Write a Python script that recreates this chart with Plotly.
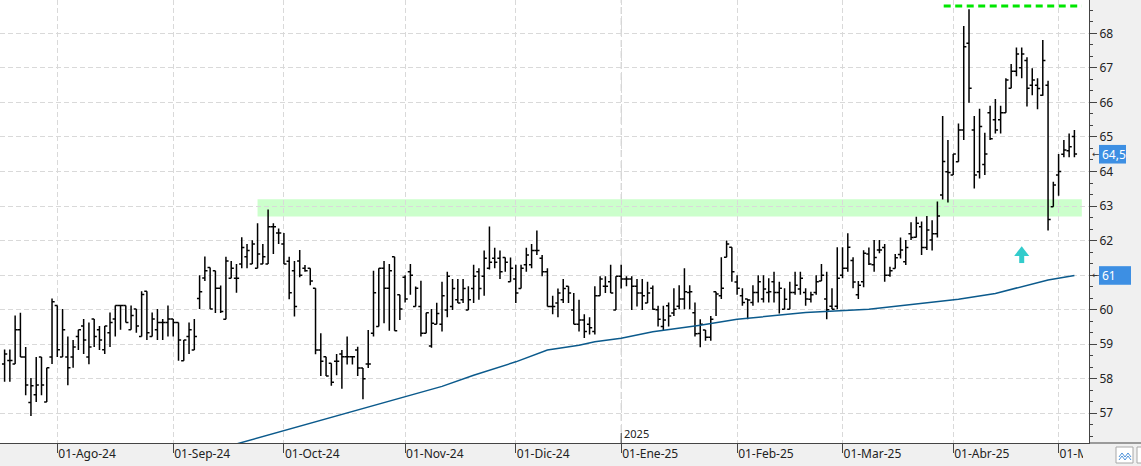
import plotly.graph_objects as go

# ---------------- data ----------------
MONTH_DAYS = {
    "2024-07": [18, 19, 22, 23, 24, 25, 26, 29, 30, 31],
    "2024-08": [1, 2, 5, 6, 7, 8, 9, 12, 13, 14, 15, 16, 19, 20, 21, 22, 23, 26, 27, 28, 29, 30],
    "2024-09": [2, 3, 4, 5, 6, 9, 10, 11, 12, 13, 16, 17, 18, 19, 20, 23, 24, 25, 26, 27, 30],
    "2024-10": [1, 2, 3, 4, 7, 8, 9, 10, 11, 14, 15, 16, 17, 18, 21, 22, 23, 24, 25, 28, 29, 30, 31],
    "2024-11": [1, 4, 5, 6, 7, 8, 11, 12, 13, 14, 15, 18, 19, 20, 21, 22, 25, 26, 27, 28, 29],
    "2024-12": [2, 3, 4, 5, 6, 9, 10, 11, 12, 13, 16, 17, 18, 19, 20, 23, 24, 27, 30, 31],
    "2025-01": [2, 3, 6, 7, 8, 9, 10, 13, 14, 15, 16, 17, 20, 21, 22, 23, 24, 27, 28, 29, 30, 31],
    "2025-02": [3, 4, 5, 6, 7, 10, 11, 12, 13, 14, 17, 18, 19, 20, 21, 24, 25, 26, 27, 28],
    "2025-03": [3, 4, 5, 6, 7, 10, 11, 12, 13, 14, 17, 18, 19, 20, 21, 24, 25, 26, 27, 28, 31],
    "2025-04": [1, 2, 3, 4, 7, 8, 9, 10, 11, 14, 15, 16, 17, 22, 23, 24, 25, 28, 29, 30],
    "2025-05": [2, 5, 6, 7],
}
DATES = [f"{ym}-{d:02d}" for ym, days in MONTH_DAYS.items() for d in days]

OPEN = [
    58.43, 58.53, 58.43, 59.42, 58.63, 57.31, 57.54, 58.63, 57.33, 58.63,
    60.12, 58.63, 58.63, 58.63, 59.22, 59.53, 58.63, 59.73, 59.42, 58.84,
    59.33, 59.73, 60.12, 60.12, 59.42, 60.02, 59.22, 60.53, 59.22, 59.42,
    59.63, 59.63, 59.73, 59.63, 58.52, 59.22, 58.83, 60.32, 60.92, 61.22,
    61.13, 60.62, 59.72, 60.91, 60.91, 61.32, 61.53, 61.32, 61.20, 61.32,
    61.32, 62.40, 62.22, 61.90, 61.40, 61.13, 61.41, 61.20, 61.20, 60.62,
    58.83, 58.64, 58.45, 58.51, 58.72, 58.64, 58.64, 58.83, 58.31, 58.43,
    59.32, 59.51, 61.20, 60.62, 61.53, 60.43, 60.94, 61.10, 60.09, 60.09,
    59.32, 58.95, 59.58, 59.58, 59.99, 60.09, 60.29, 60.29, 59.99, 60.61,
    61.10, 60.97, 61.20, 61.49, 61.49, 61.51, 60.81, 60.89, 60.61, 61.30,
    61.30, 61.71, 61.49, 61.10, 60.09, 60.19, 60.29, 60.68, 59.99, 59.58,
    59.70, 59.58, 59.37, 60.40, 60.68, 60.81, 59.99, 60.97, 60.89, 60.89,
    60.68, 60.48, 60.19, 60.62, 60.00, 59.51, 60.11, 59.90, 60.10, 60.31,
    60.50, 59.91, 59.31, 59.41, 59.20, 60.52, 60.40, 61.52, 61.81, 60.80,
    60.40, 60.31, 60.21, 60.50, 60.31, 60.50, 60.81, 60.50, 60.01, 60.01,
    60.50, 60.60, 60.50, 60.30, 60.50, 60.83, 60.31, 60.10, 60.10, 61.00,
    61.20, 61.42, 60.43, 60.81, 61.61, 61.30, 61.73, 61.80, 61.00, 61.19,
    61.60, 61.39, 62.20, 62.10, 62.40, 61.80, 62.02, 62.20, 63.32, 63.99,
    63.90, 64.28, 65.20, 67.71, 65.20, 63.99, 64.20, 65.70, 65.50, 65.50,
    65.70, 66.41, 66.90, 67.00, 67.21, 66.50, 66.50, 66.21, 66.50, 62.98,
    63.90, 64.50, 64.60, 65.01,
]
HIGH = [
    58.85, 58.85, 59.83, 59.91, 58.92, 58.02, 58.63, 58.63, 58.32, 60.32,
    60.12, 60.02, 59.22, 59.12, 59.42, 59.73, 59.63, 59.73, 59.53, 59.53,
    59.92, 60.12, 60.12, 60.12, 60.12, 60.02, 60.53, 60.53, 59.92, 60.02,
    59.73, 60.12, 59.73, 59.63, 59.12, 59.63, 59.73, 61.00, 61.54, 61.22,
    61.13, 60.70, 61.53, 61.41, 61.32, 62.10, 61.90, 62.01, 62.50, 61.90,
    62.90, 62.50, 62.35, 62.22, 61.53, 61.41, 61.73, 61.29, 61.20, 60.62,
    59.32, 58.64, 58.45, 58.72, 58.83, 59.22, 58.64, 58.93, 58.31, 59.41,
    61.13, 61.20, 61.41, 61.32, 61.53, 60.43, 61.00, 61.32, 60.67, 60.84,
    59.91, 60.02, 60.20, 60.81, 61.10, 60.89, 60.89, 60.89, 60.68, 61.30,
    61.20, 61.71, 62.41, 61.79, 61.71, 61.51, 61.51, 61.30, 61.30, 61.79,
    61.90, 62.29, 61.58, 61.20, 60.40, 60.61, 60.89, 60.68, 60.48, 60.29,
    59.87, 59.78, 60.68, 60.97, 60.97, 61.30, 60.97, 61.30, 60.97, 60.97,
    60.89, 60.89, 60.81, 60.70, 60.11, 60.11, 60.21, 60.62, 60.71, 61.20,
    60.71, 60.21, 59.72, 59.41, 59.82, 60.52, 61.52, 62.00, 61.81, 61.00,
    60.62, 60.31, 60.71, 61.00, 61.00, 60.91, 61.10, 60.81, 60.62, 60.81,
    61.10, 61.10, 60.62, 60.52, 61.00, 61.32, 61.10, 60.62, 61.81, 61.81,
    62.21, 61.52, 60.83, 61.72, 61.80, 62.02, 62.02, 61.90, 61.24, 61.61,
    62.09, 62.02, 62.53, 62.69, 62.55, 62.71, 62.59, 63.13, 65.61, 64.91,
    64.51, 65.39, 68.21, 68.70, 65.61, 65.82, 65.12, 65.90, 66.10, 65.90,
    66.70, 67.11, 67.59, 67.59, 67.31, 66.99, 66.70, 67.81, 66.63, 63.70,
    64.51, 64.91, 65.10, 65.20,
]
LOW = [
    57.91, 57.91, 58.43, 58.63, 57.52, 56.92, 57.33, 57.52, 57.33, 58.43,
    58.63, 58.63, 57.81, 58.32, 58.83, 58.72, 58.42, 58.92, 58.83, 58.72,
    58.92, 59.22, 59.42, 59.63, 59.42, 59.33, 59.22, 59.12, 59.22, 59.12,
    59.12, 59.22, 59.22, 58.52, 58.52, 58.72, 58.83, 60.02, 60.83, 60.02,
    59.90, 59.90, 59.72, 60.91, 60.49, 61.20, 61.20, 61.32, 61.20, 61.32,
    61.32, 61.61, 61.90, 61.32, 60.30, 59.80, 60.94, 61.10, 60.71, 58.71,
    58.08, 58.08, 57.80, 58.10, 57.71, 58.41, 58.41, 58.08, 57.41, 58.31,
    59.22, 59.51, 59.61, 59.39, 59.39, 59.70, 60.21, 60.43, 60.09, 59.22,
    59.32, 58.90, 59.58, 59.37, 59.78, 59.99, 60.19, 60.19, 59.99, 60.19,
    60.29, 60.40, 61.16, 61.20, 60.89, 61.10, 60.81, 60.19, 60.61, 61.10,
    61.20, 61.58, 60.97, 60.09, 59.87, 59.78, 60.19, 60.19, 59.58, 59.37,
    59.18, 59.28, 59.28, 60.40, 60.48, 60.48, 59.99, 60.61, 60.68, 59.99,
    60.09, 59.99, 60.19, 60.00, 59.51, 59.41, 59.51, 59.82, 60.01, 60.01,
    60.01, 59.22, 58.91, 59.10, 59.10, 59.82, 60.31, 61.52, 60.81, 60.43,
    60.11, 59.72, 60.11, 60.21, 60.21, 60.21, 60.21, 59.89, 60.01, 60.01,
    60.43, 60.43, 60.11, 60.21, 60.43, 60.83, 59.72, 60.01, 60.01, 60.91,
    61.10, 60.62, 60.31, 60.65, 61.29, 61.10, 61.63, 60.81, 60.95, 61.19,
    61.48, 61.29, 62.02, 62.09, 61.58, 61.73, 61.71, 62.09, 63.19, 63.10,
    63.90, 64.28, 64.91, 65.99, 63.51, 63.80, 63.90, 64.91, 65.10, 65.10,
    65.70, 66.41, 66.76, 66.70, 65.88, 66.21, 65.80, 66.19, 62.29, 62.98,
    63.30, 64.41, 64.41, 64.41,
]
CLOSE = [
    58.72, 58.53, 59.42, 58.63, 57.82, 57.80, 57.82, 57.82, 58.32, 60.23,
    58.84, 59.42, 58.32, 58.92, 59.42, 59.12, 58.92, 59.22, 59.12, 59.53,
    59.63, 60.12, 60.12, 59.63, 59.83, 59.53, 60.44, 59.33, 59.73, 59.63,
    59.63, 59.73, 59.63, 59.12, 59.12, 59.42, 59.22, 60.52, 61.13, 60.02,
    60.62, 59.95, 61.41, 61.20, 60.91, 61.80, 61.71, 61.90, 61.61, 61.53,
    62.40, 62.40, 62.22, 61.32, 60.49, 60.09, 61.00, 61.13, 60.83, 58.83,
    58.51, 58.08, 57.90, 58.51, 58.64, 58.64, 58.64, 58.31, 58.00, 58.43,
    60.49, 61.20, 60.62, 61.13, 59.39, 60.02, 60.31, 61.00, 60.62, 59.32,
    59.91, 59.61, 59.89, 60.40, 60.97, 60.61, 60.19, 60.61, 60.29, 60.97,
    60.61, 61.49, 61.37, 61.37, 61.10, 61.37, 61.20, 60.48, 61.20, 61.58,
    61.71, 61.71, 61.10, 60.09, 60.09, 60.48, 60.61, 60.48, 59.58, 59.70,
    59.37, 59.48, 60.40, 60.89, 60.68, 60.48, 60.97, 60.89, 60.89, 60.68,
    60.48, 60.40, 60.48, 60.01, 59.72, 59.70, 59.82, 60.01, 60.31, 60.52,
    60.52, 59.30, 59.58, 59.20, 59.72, 60.45, 60.62, 61.90, 61.10, 60.62,
    60.21, 60.28, 60.50, 60.81, 60.60, 60.52, 60.50, 60.62, 60.30, 60.50,
    60.71, 60.91, 60.31, 60.43, 60.81, 61.00, 60.00, 60.01, 60.91, 61.20,
    61.81, 60.80, 60.71, 61.63, 61.32, 61.51, 61.73, 61.00, 61.13, 61.50,
    61.73, 61.80, 62.09, 62.50, 61.80, 62.31, 62.20, 62.71, 64.29, 63.97,
    64.51, 65.20, 67.61, 66.41, 63.90, 65.30, 64.51, 64.95, 65.20, 65.70,
    66.65, 66.90, 67.40, 67.40, 66.41, 66.65, 66.40, 67.21, 62.61, 63.61,
    64.00, 64.62, 64.72, 64.51,
]

MA_DATES = ["2024-09-17", "2024-10-01", "2024-10-10", "2024-10-23", "2024-11-01",
            "2024-11-12", "2024-11-20", "2024-12-02", "2024-12-10", "2024-12-18",
            "2024-12-23", "2025-01-02", "2025-01-10", "2025-01-23", "2025-02-03",
            "2025-02-20", "2025-03-10", "2025-04-02", "2025-04-11", "2025-04-22",
            "2025-04-29", "2025-05-07"]
MA_VALUES = [56.07, 56.50, 56.80, 57.20, 57.50, 57.78, 58.10, 58.49, 58.83, 58.97,
             59.07, 59.17, 59.36, 59.55, 59.72, 59.92, 60.01, 60.30, 60.47, 60.66,
             60.86, 60.99]

TICK_DATES = ["2024-08-01", "2024-09-02", "2024-10-01", "2024-11-01", "2024-12-02",
              "2025-01-02", "2025-02-03", "2025-03-03", "2025-04-01", "2025-05-02"]
TICK_TEXT = ["01-Ago-24", "01-Sep-24", "01-Oct-24", "01-Nov-24", "01-Dic-24",
             "01-Ene-25", "01-Feb-25", "01-Mar-25", "01-Abr-25", "01-May-25"]
Y_TICKS = list(range(57, 69))

BAND_LOW, BAND_HIGH = 62.70, 63.20
BAND_START = "2024-09-24"
TARGET_LEVEL = 68.79
TARGET_START = "2025-03-28"
ARROW_DATE = "2025-04-22"
ARROW_HEAD_Y, ARROW_NECK_Y, ARROW_BASE_Y = 61.65, 61.56, 61.35
LAST_PRICE, LAST_PRICE_TEXT = 64.5, "64,5"
MA_LAST, MA_LAST_TEXT = 60.99, "61"
YEAR_DATE, YEAR_TEXT = "2025-01-02", "2025"

# ---------------- layout geometry ----------------
W, H = 1141, 466
ML, MR, MT, MB = 0, 52, 0, 23
PW, PH = W - ML - MR, H - MT - MB
BAR_PX = 5.27
X0 = -0.873
X_RANGE = [X0, X0 + PW / BAR_PX]
Y_RANGE = [56.14, 68.965]

def idx(d):
    return DATES.index(d)

def px_x(p):   # pixel -> paper x
    return (p - ML) / PW

def px_y(p):   # pixel -> paper y
    return (MT + PH - p) / PH

def val_to_px(v):  # value -> pixel y inside plot
    return MT + (Y_RANGE[1] - v) / (Y_RANGE[1] - Y_RANGE[0]) * PH

FONT = "Noto Sans"
AXIS_COL = "#444444"
GRID_COL = "#d9d9d9"
LABEL_BLUE = "#3d8fe3"

# the axis label at the moving-average level is replaced by its value box
Y_TICKTEXT = ["" if abs(v - MA_LAST) < 0.3 else str(v) for v in Y_TICKS]

fig = go.Figure()
fig.add_trace(go.Ohlc(
    x=DATES, open=OPEN, high=HIGH, low=LOW, close=CLOSE,
    increasing=dict(line=dict(color="black", width=1.5)),
    decreasing=dict(line=dict(color="black", width=1.5)),
    tickwidth=0.5, showlegend=False, hoverinfo="skip",
))
fig.add_trace(go.Scatter(
    x=MA_DATES, y=MA_VALUES, mode="lines",
    line=dict(color="#0b5a8c", width=1.5), showlegend=False, hoverinfo="skip",
))
# cyan arrow
fig.add_trace(go.Scatter(
    x=[ARROW_DATE, ARROW_DATE], y=[ARROW_NECK_Y, ARROW_BASE_Y], mode="lines",
    line=dict(color="#33cccc", width=5), showlegend=False, hoverinfo="skip",
))
fig.add_trace(go.Scatter(
    x=[ARROW_DATE], y=[ARROW_HEAD_Y], mode="markers",
    marker=dict(symbol="triangle-up", size=13, color="#33cccc", line=dict(width=0)),
    showlegend=False, hoverinfo="skip",
))

last = len(DATES) - 1
shapes = [
    dict(type="rect", xref="x", yref="y", x0=idx(BAND_START), x1=last + 1.4,
         y0=BAND_LOW, y1=BAND_HIGH, fillcolor="#ccffcc", line=dict(width=0), layer="below"),
    dict(type="line", xref="x", yref="paper", x0=idx(YEAR_DATE), x1=idx(YEAR_DATE),
         y0=0, y1=1, line=dict(color="#c4c4c4", width=1, dash="7px,4px"), layer="below"),
    dict(type="line", xref="x", yref="y", x0=idx(TARGET_START) + 0.2, x1=last + 1.4,
         y0=TARGET_LEVEL, y1=TARGET_LEVEL,
         line=dict(color="#00e600", width=3, dash="7px,4.5px"), layer="above"),
    # year tick going up from the axis
    dict(type="line", xref="x", yref="paper", x0=idx(YEAR_DATE), x1=idx(YEAR_DATE),
         y0=0, y1=px_y(PH - 10), line=dict(color=AXIS_COL, width=1), layer="above"),
    # bottom line continues under right panel
    dict(type="line", xref="paper", yref="paper", x0=1, x1=px_x(W), y0=0, y1=0,
         line=dict(color=AXIS_COL, width=1), layer="above"),
    # cover clipped last date label
    dict(type="rect", xref="paper", yref="paper", x0=px_x(1083), x1=px_x(W + 2),
         y0=px_y(PH + 1.5), y1=px_y(H + 2), fillcolor="#f0f0f0", line=dict(width=0), layer="above"),
    # small toolbar boxes bottom right
    dict(type="rect", xref="paper", yref="paper", x0=px_x(1116), x1=px_x(1133),
         y0=px_y(447), y1=px_y(463), fillcolor="white", line=dict(color="#a8a8a8", width=1), layer="above"),
    dict(type="rect", xref="paper", yref="paper", x0=px_x(1137), x1=px_x(1150),
         y0=px_y(447), y1=px_y(463), fillcolor="white", line=dict(color="#a8a8a8", width=1), layer="above"),
]
# value label boxes on the right axis
for val, right_px in ((LAST_PRICE, 1126), (MA_LAST, 1131)):
    cy = val_to_px(val)
    shapes.append(dict(type="rect", xref="paper", yref="paper",
                       x0=px_x(1099), x1=px_x(right_px), y0=px_y(cy - 9.3), y1=px_y(cy + 9.3),
                       fillcolor=LABEL_BLUE, line=dict(width=0), layer="above"))

zig = [(1119, 457), (1122, 453), (1125, 457), (1128, 453), (1131, 457)]
zig2 = [(1119, 460), (1122, 456), (1125, 460), (1128, 456), (1131, 460)]
for z in (zig, zig2):
    path = "M " + " L ".join(f"{px_x(a):.5f},{px_y(b):.5f}" for a, b in z)
    shapes.append(dict(type="path", xref="paper", yref="paper", path=path,
                       line=dict(color="#4a90d9", width=1), layer="above"))

annotations = [
    dict(xref="x", yref="paper", x=idx(YEAR_DATE), y=0, xanchor="left", yanchor="bottom",
         xshift=1, yshift=0, text=YEAR_TEXT, showarrow=False,
         font=dict(family=FONT, size=11, color="#222222")),
]
for val, txt in ((LAST_PRICE, LAST_PRICE_TEXT), (MA_LAST, MA_LAST_TEXT)):
    annotations.append(dict(xref="paper", yref="y", x=px_x(1100), y=val, xanchor="left",
                            yanchor="middle", text=txt, showarrow=False,
                            font=dict(family=FONT, size=12, color="white")))
    annotations.append(dict(xref="paper", yref="y", x=px_x(1089.5), y=val, xanchor="left",
                            yanchor="middle", text="←", showarrow=False,
                            font=dict(family="DejaVu Sans", size=9, color="#333333")))

fig.update_layout(
    width=W, height=H,
    margin=dict(l=ML, r=MR, t=MT, b=MB, pad=0),
    paper_bgcolor="#f0f0f0", plot_bgcolor="white",
    showlegend=False, hovermode=False,
    shapes=shapes, annotations=annotations,
    xaxis=dict(
        type="category", categoryorder="array", categoryarray=DATES,
        range=X_RANGE, rangeslider=dict(visible=False),
        tickmode="array", tickvals=TICK_DATES, ticktext=TICK_TEXT,
        ticks="outside", ticklen=9, tickcolor=AXIS_COL, tickwidth=1,
        ticklabelposition="outside right",
        tickfont=dict(family=FONT, size=12, color="#222222"),
        showline=True, linecolor=AXIS_COL, linewidth=1,
        showgrid=True, gridcolor=GRID_COL, griddash="5px,3px", gridwidth=1,
        zeroline=False, fixedrange=True,
    ),
    yaxis=dict(
        side="right", range=Y_RANGE,
        tickmode="array", tickvals=Y_TICKS, ticktext=Y_TICKTEXT,
        ticks="outside", ticklen=7, tickcolor=AXIS_COL, tickwidth=1,
        minor=dict(ticks="outside", ticklen=3, tickcolor=AXIS_COL, dtick=1 / 3, showgrid=False),
        tickfont=dict(family=FONT, size=12, color="#222222"),
        showline=True, linecolor=AXIS_COL, linewidth=1,
        showgrid=True, gridcolor=GRID_COL, griddash="5px,3px", gridwidth=1,
        zeroline=False, fixedrange=True,
    ),
)

fig.write_html("out.html")
